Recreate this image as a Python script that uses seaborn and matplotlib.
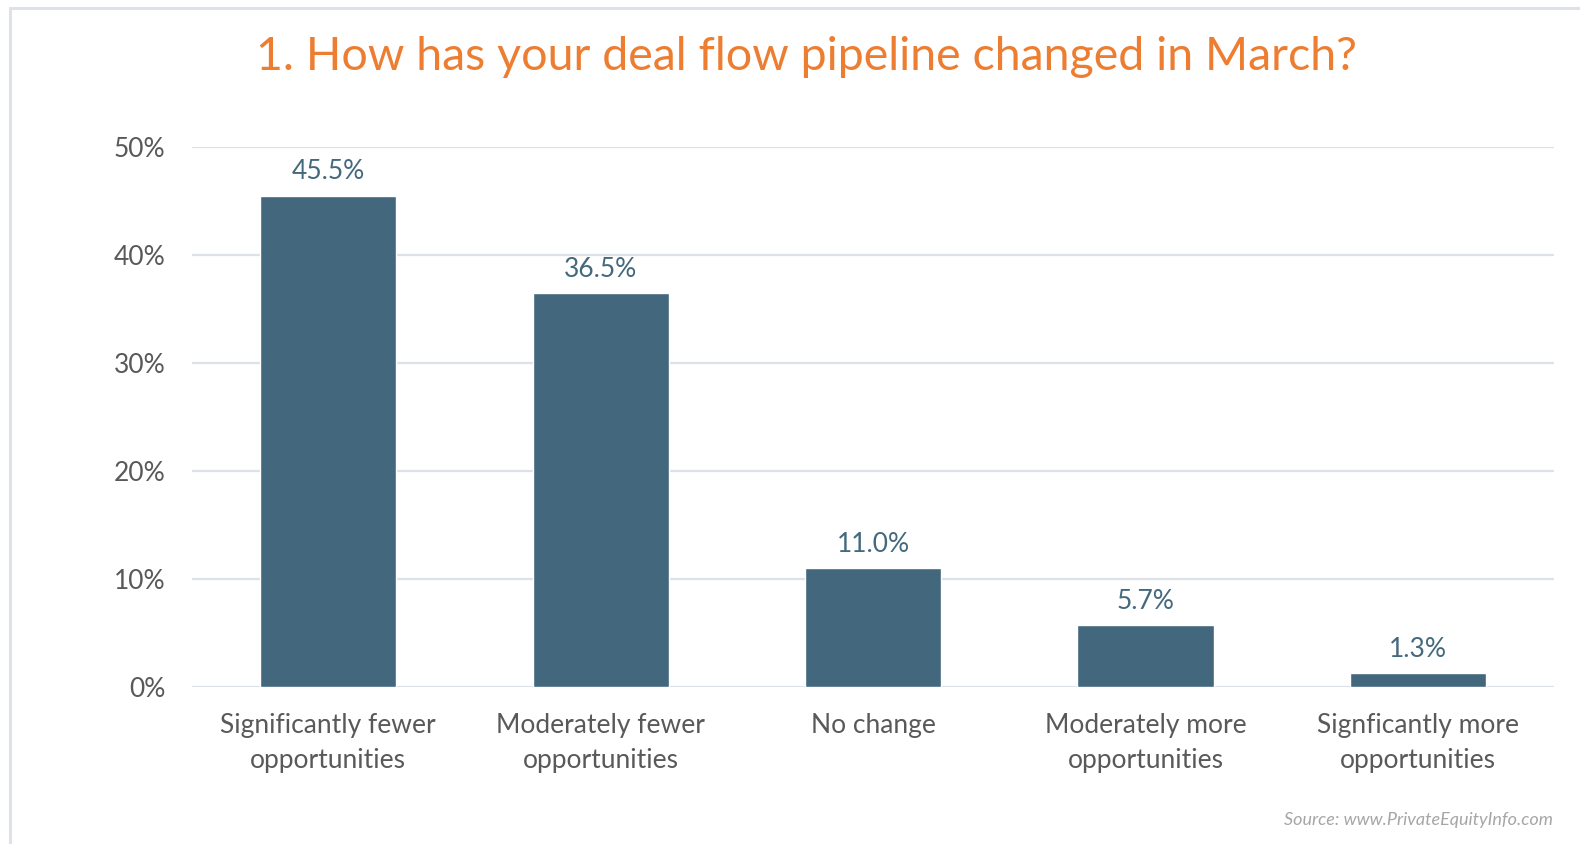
import matplotlib
matplotlib.use("Agg")
import matplotlib.pyplot as plt
import seaborn as sns
import pandas as pd
from matplotlib.patches import Rectangle

categories = ["Significantly fewer\nopportunities", "Moderately fewer\nopportunities",
              "No change", "Moderately more\nopportunities", "Signficantly more\nopportunities"]
values = [45.5, 36.5, 11.0, 5.7, 1.3]
yticks = [0, 10, 20, 30, 40, 50]
title = "1. How has your deal flow pipeline changed in March?"
source = "Source: www.PrivateEquityInfo.com"

sns.set_theme(style="white")
plt.rcParams['font.family'] = ['Lato', 'DejaVu Sans']

BAR = "#43687E"
GRID = "#DDE2E9"
TXT = "#595959"

fig = plt.figure(figsize=(15.8, 8.44), dpi=100)
fig.patch.set_facecolor("white")
fig.patches.append(Rectangle((10/1580, -0.01), 1.1, 1 - 8/844 + 0.01, transform=fig.transFigure,
                             fill=False, edgecolor=GRID, linewidth=2.2))

ax = fig.add_axes([192/1580, 1 - 687/844, (1554 - 192)/1580, (687 - 147)/844])
df = pd.DataFrame({"cat": categories, "val": values})
sns.barplot(data=df, x="cat", y="val", color=BAR, width=0.5, saturation=1, ax=ax)
ax.set_xlim(-0.5, 4.5)
ax.set_ylim(0, 50)
ax.set_yticks(yticks)
ax.set_yticklabels([f"{t}%" for t in yticks])
ax.yaxis.grid(True, color=GRID, linewidth=1.6)
ax.set_axisbelow(True)
for s in ax.spines.values():
    s.set_visible(False)
ax.set_xlabel("")
ax.set_ylabel("")
ax.tick_params(axis="y", length=0, pad=19, labelsize=19, labelcolor=TXT)
ax.tick_params(axis="x", length=0, pad=19, labelsize=19, labelcolor=TXT)
for lbl in ax.get_xticklabels():
    lbl.set_linespacing(1.5)

for i, v in enumerate(values):
    ax.annotate(f"{v:.1f}%", (i, v), xytext=(0, 8), textcoords="offset points",
                ha="center", va="bottom", fontsize=19, color="#44697D")

fig.text(806/1580, 1 - 57/844, title, ha="center", va="center", fontsize=33.5, color="#ED7D31")
fig.text(1553/1580, 1 - 820/844, source, ha="right", va="center", fontsize=13,
         color="#A6A6A6", style="italic")

fig.savefig("out.png", dpi=100, facecolor="white")
